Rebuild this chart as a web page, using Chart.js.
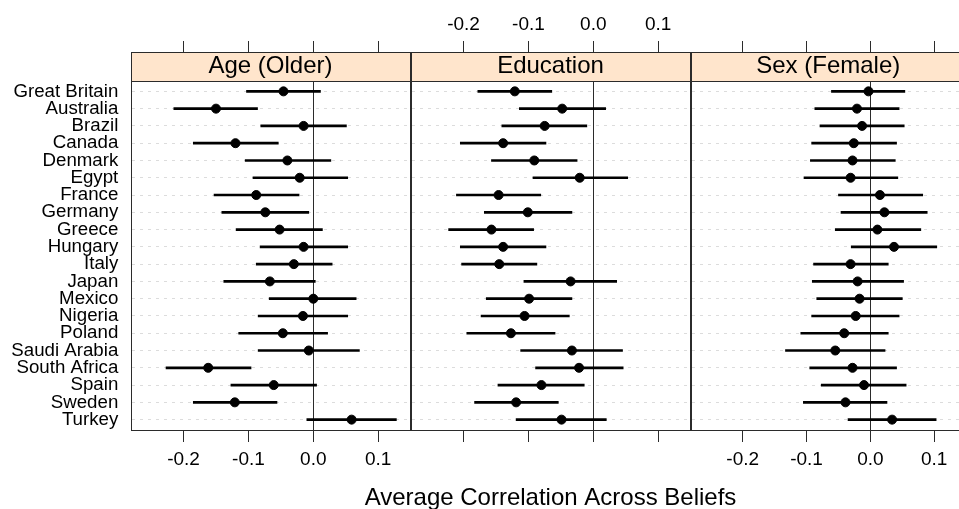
<!DOCTYPE html>
<html>
<head>
<meta charset="utf-8">
<script src="https://cdn.jsdelivr.net/npm/chart.js@4.4.0/dist/chart.umd.min.js"></script>
<style>
  html, body { margin: 0; padding: 0; overflow: hidden; background: #fff; }
  #wrap { position: relative; width: 971px; height: 509px; }
  #wrap canvas { position: absolute; left: 0; top: 0; }
</style>
</head>
<body>
<div id="wrap">
  <canvas id="p1" width="971" height="509"></canvas>
  <canvas id="p2" width="971" height="509"></canvas>
  <canvas id="p3" width="971" height="509"></canvas>
</div>
<script>
// data
const countries = ['Great Britain', 'Australia', 'Brazil', 'Canada', 'Denmark', 'Egypt', 'France',
  'Germany', 'Greece', 'Hungary', 'Italy', 'Japan', 'Mexico', 'Nigeria', 'Poland', 'Saudi Arabia',
  'South Africa', 'Spain', 'Sweden', 'Turkey'];
const panelTitles = ['Age (Older)', 'Education', 'Sex (Female)'];
const tickValues = [-0.2, -0.1, 0.0, 0.1];
const axisTitle = 'Average Correlation Across Beliefs';

const ageEst = [-0.046, -0.150, -0.015, -0.120, -0.040, -0.021, -0.088, -0.074, -0.052, -0.015,
  -0.030, -0.067, 0.000, -0.016, -0.047, -0.007, -0.162, -0.061, -0.121, 0.059];
const ageLo = [-0.103, -0.215, -0.081, -0.185, -0.105, -0.093, -0.153, -0.141, -0.119, -0.082,
  -0.088, -0.138, -0.068, -0.085, -0.115, -0.085, -0.227, -0.127, -0.185, -0.010];
const ageHi = [0.011, -0.086, 0.051, -0.054, 0.027, 0.053, -0.022, -0.007, 0.014, 0.053,
  0.029, 0.003, 0.066, 0.053, 0.022, 0.071, -0.096, 0.005, -0.056, 0.128];

const eduEst = [-0.121, -0.048, -0.075, -0.139, -0.091, -0.021, -0.146, -0.101, -0.157, -0.139,
  -0.145, -0.035, -0.099, -0.106, -0.127, -0.033, -0.022, -0.080, -0.119, -0.049];
const eduLo = [-0.178, -0.114, -0.141, -0.205, -0.157, -0.093, -0.211, -0.168, -0.223, -0.205,
  -0.203, -0.107, -0.165, -0.173, -0.195, -0.112, -0.089, -0.147, -0.183, -0.119];
const eduHi = [-0.064, 0.019, -0.010, -0.073, -0.025, 0.053, -0.081, -0.033, -0.092, -0.073,
  -0.087, 0.036, -0.033, -0.037, -0.059, 0.045, 0.046, -0.014, -0.054, 0.020];

const sexEst = [-0.003, -0.021, -0.013, -0.026, -0.028, -0.031, 0.015, 0.022, 0.011, 0.037,
  -0.031, -0.020, -0.017, -0.023, -0.041, -0.055, -0.028, -0.010, -0.039, 0.034];
const sexLo = [-0.061, -0.087, -0.079, -0.092, -0.094, -0.104, -0.050, -0.046, -0.055, -0.030,
  -0.089, -0.091, -0.084, -0.092, -0.109, -0.133, -0.095, -0.077, -0.105, -0.035];
const sexHi = [0.054, 0.045, 0.053, 0.041, 0.039, 0.043, 0.082, 0.089, 0.079, 0.104,
  0.028, 0.052, 0.050, 0.045, 0.028, 0.023, 0.041, 0.056, 0.026, 0.103];

const fontFamily = '"Liberation Sans", Arial, sans-serif';
Chart.defaults.font.family = fontFamily;
Chart.defaults.color = '#000';

const W = 971;
const panelLeft = [131, 411, 691];
const panelWidth = 279;
const stripHeight = 29;
const frameColor = '#2b2b2b';

// strip (panel header) drawn above the plot area, plus the shared axis title
const stripPlugin = {
  id: 'strip',
  beforeDatasetsDraw(chart, args, opts) {
    const a = chart.chartArea;
    const ctx = chart.ctx;
    ctx.save();
    ctx.fillStyle = '#ffe5cc';
    ctx.fillRect(a.left, a.top - stripHeight, a.right - a.left, stripHeight);
    ctx.strokeStyle = frameColor;
    ctx.lineWidth = 1;
    ctx.strokeRect(a.left + 0.5, a.top - stripHeight + 0.5, a.right - a.left, stripHeight);
    ctx.fillStyle = '#000';
    ctx.font = '24px ' + fontFamily;
    ctx.textAlign = 'center';
    ctx.textBaseline = 'middle';
    ctx.fillText(opts.text, (a.left + a.right) / 2, a.top - stripHeight / 2);
    if (opts.title) {
      // whole-figure x label, wider than one panel
      ctx.textBaseline = 'alphabetic';
      ctx.fillText(opts.title, (a.left + a.right) / 2, 505);
    }
    ctx.restore();
  }
};

function fixTicks(scale) {
  scale.ticks = tickValues.map(v => ({ value: v }));
}

function makePanel(id, idx, est, lo, hi) {
  const left = panelLeft[idx];
  const right = left + panelWidth;
  const xMin = -0.281, xMax = 0.149;
  const tickFont = { size: 19 };

  new Chart(document.getElementById(id), {
    type: 'bar',
    data: {
      datasets: [
        {
          type: 'line',
          showLine: false,
          data: est.map((v, i) => ({ x: v, y: i })),
          pointRadius: 4.5,
          pointBorderWidth: 1,
          pointBackgroundColor: '#000',
          pointBorderColor: '#000',
          xAxisID: 'x',
          yAxisID: 'y',
          order: 0
        },
        {
          data: lo.map((v, i) => ({ x: [v, hi[i]], y: i })),
          backgroundColor: '#000',
          barThickness: 2,
          xAxisID: 'x',
          yAxisID: 'y',
          order: 1
        }
      ]
    },
    options: {
      indexAxis: 'y',
      responsive: false,
      animation: false,
      layout: { padding: { left: idx === 0 ? 0 : left, right: W - right, top: 0, bottom: 0 } },
      plugins: {
        legend: { display: false },
        tooltip: { enabled: false },
        strip: { text: panelTitles[idx], title: idx === 1 ? axisTitle : null }
      },
      scales: {
        x: {
          type: 'linear',
          position: 'bottom',
          min: xMin,
          max: xMax,
          afterBuildTicks: fixTicks,
          afterFit: s => { s.height = 79; },
          grid: {
            color: c => (c.tick && c.tick.value === 0 ? frameColor : 'rgba(0,0,0,0)'),
            tickColor: frameColor,
            tickLength: 12,
            lineWidth: 1
          },
          border: { display: true, color: frameColor, width: 1 },
          ticks: {
            display: idx !== 1,
            font: tickFont,
            padding: 6,
            maxRotation: 0,
            callback: v => v.toFixed(1)
          }
        },
        xTop: {
          type: 'linear',
          position: 'top',
          min: xMin,
          max: xMax,
          afterBuildTicks: fixTicks,
          afterFit: s => { s.height = 81; },
          grid: { drawOnChartArea: false, tickColor: frameColor, tickLength: stripHeight + 11 },
          border: { display: true, color: frameColor, width: 1 },
          ticks: {
            display: idx === 1,
            font: tickFont,
            padding: 5,
            maxRotation: 0,
            callback: v => v.toFixed(1)
          }
        },
        y: {
          type: 'linear',
          position: 'left',
          reverse: true,
          offset: false,
          min: -0.6,
          max: countries.length - 0.4,
          afterBuildTicks: s => { s.ticks = countries.map((c, i) => ({ value: i })); },
          afterFit: s => { s.width = idx === 0 ? 131 : 0; },
          grid: { offset: false, color: '#dcdcdc', lineWidth: 1, drawTicks: false },
          border: { display: true, color: frameColor, width: 1, dash: [3, 5] },
          ticks: {
            display: idx === 0,
            autoSkip: false,
            font: { size: 18.7, lineHeight: 1 },
            padding: 12.7,
            callback: v => countries[v]
          }
        },
        yRight: {
          type: 'linear',
          position: 'right',
          reverse: true,
          offset: false,
          min: -0.6,
          max: countries.length - 0.4,
          afterFit: s => { s.width = 0; },
          grid: { display: false },
          border: { display: true, color: frameColor, width: 1 },
          ticks: { display: false }
        }
      }
    },
    plugins: [stripPlugin]
  });
}

makePanel('p1', 0, ageEst, ageLo, ageHi);
makePanel('p2', 1, eduEst, eduLo, eduHi);
makePanel('p3', 2, sexEst, sexLo, sexHi);
</script>
</body>
</html>
